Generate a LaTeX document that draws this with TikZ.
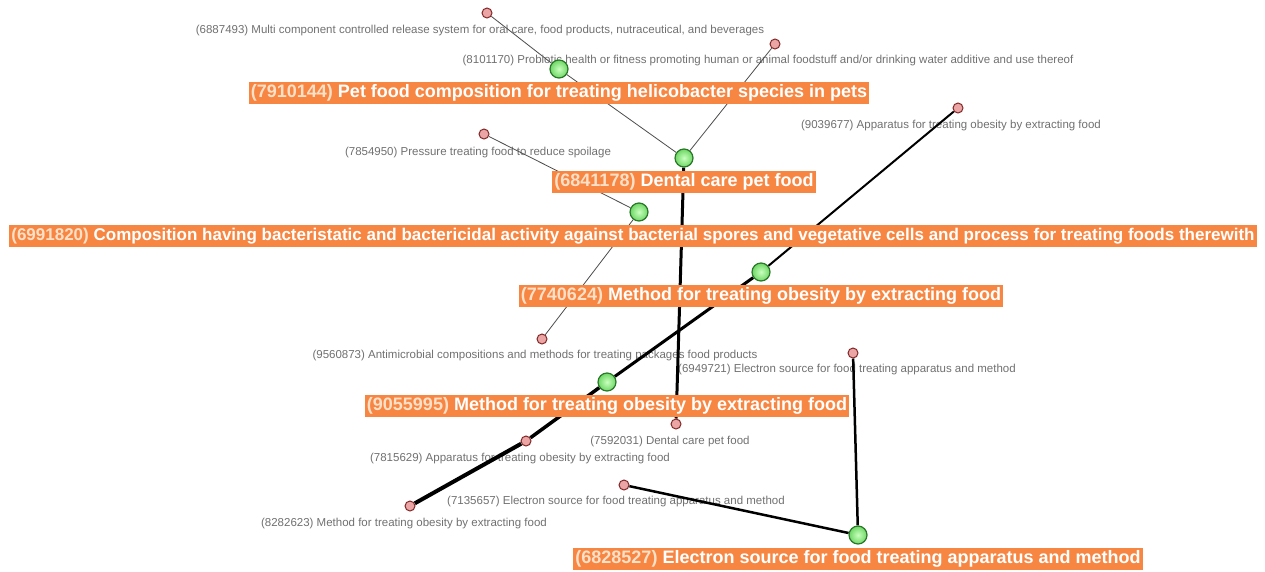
\documentclass[tikz,border=0pt]{standalone}
\usepackage{fontspec}
\setmainfont{Liberation Sans}
\usetikzlibrary{backgrounds}
\definecolor{barorange}{RGB}{247,134,66}
\definecolor{idpeach}{RGB}{253,224,200}
\definecolor{greenhi}{RGB}{200,255,190}
\definecolor{greenlo}{RGB}{110,215,100}
\definecolor{greenline}{RGB}{40,120,40}
\definecolor{redfill}{RGB}{235,165,165}
\definecolor{redline}{RGB}{130,40,40}
\definecolor{notegray}{RGB}{112,112,112}
\tikzset{
  patent/.style={circle, draw=greenline, line width=1.2pt, inner color=greenhi, outer color=greenlo, minimum size=18pt, inner sep=0pt},
  cited/.style={circle, draw=redline, fill=redfill, line width=1pt, minimum size=10pt, inner sep=0pt},
  bar/.style={fill=barorange, text=white, font=\bfseries\fontsize{18}{20}\selectfont, minimum height=22pt, inner xsep=2pt, inner ysep=0pt},
  note/.style={text=notegray, font=\fontsize{11.5}{13}\selectfont, inner sep=0pt, yshift=-2pt},
  weakedge/.style={draw=black!70, line width=0.8pt},
  strongedge/.style={draw=black, line width=#1},
}
\newcommand{\pid}[1]{\textcolor{idpeach}{(#1)}}

\begin{document}
\begin{tikzpicture}[x=1pt, y=-1pt]
\useasboundingbox (0,0) rectangle (1265,571);
% main patents
\node[patent] (p7910144) at (559,69) {};
\node[patent] (p6841178) at (684,158) {};
\node[patent] (p6991820) at (639,212) {};
\node[patent] (p7740624) at (761,272) {};
\node[patent] (p9055995) at (607,382) {};
\node[patent] (p6828527) at (858,535) {};
% cited patents
\node[cited] (c6887493) at (487,13) {};
\node[cited] (c8101170) at (775,44) {};
\node[cited] (c7854950) at (484,134) {};
\node[cited] (c9039677) at (958,108) {};
\node[cited] (c9560873) at (542,339) {};
\node[cited] (c6949721) at (853,353) {};
\node[cited] (c7592031) at (676,424) {};
\node[cited] (c7815629) at (526,441) {};
\node[cited] (c7135657) at (624,485) {};
\node[cited] (c8282623) at (410,506) {};
\begin{scope}[on background layer]
% cited titles
\node[note] (t6887493) at (480,29) {(6887493) Multi component controlled release system for oral care, food products, nutraceutical, and beverages};
\node[note] (t8101170) at (768,59) {(8101170) Probiotic health or fitness promoting human or animal foodstuff and/or drinking water additive and use thereof};
\node[note] (t7854950) at (478,151) {(7854950) Pressure treating food to reduce spoilage};
\node[note] (t9039677) at (951,124) {(9039677) Apparatus for treating obesity by extracting food};
\node[note] (t9560873) at (535,354) {(9560873) Antimicrobial compositions and methods for treating packages food products};
\node[note] (t6949721) at (847,368) {(6949721) Electron source for food treating apparatus and method};
\node[note] (t7592031) at (670,440) {(7592031) Dental care pet food};
\node[note] (t7815629) at (520,457) {(7815629) Apparatus for treating obesity by extracting food};
\node[note] (t7135657) at (616,500) {(7135657) Electron source for food treating apparatus and method};
\node[note] (t8282623) at (404,522) {(8282623) Method for treating obesity by extracting food};
% links
\draw[weakedge] (p7910144) -- (c6887493);
\draw[weakedge] (p7910144) -- (p6841178);
\draw[weakedge] (p6841178) -- (c8101170);
\draw[weakedge] (p6991820) -- (c7854950);
\draw[weakedge] (p6991820) -- (c9560873);
\draw[strongedge=3pt] (p6841178) -- (c7592031);
\draw[strongedge=2pt] (p7740624) -- (c9039677);
\draw[strongedge=3pt] (p7740624) -- (p9055995);
\draw[strongedge=3.5pt] (p9055995) -- (c7815629);
\draw[strongedge=4pt] (c7815629) -- (c8282623);
\draw[strongedge=2.5pt] (p6828527) -- (c6949721);
\draw[strongedge=2.5pt] (p6828527) -- (c7135657);
\end{scope}
% main titles
\node[bar] (b7910144) at (559,93) {\pid{7910144} Pet food composition for treating helicobacter species in pets};
\node[bar] (b6841178) at (684,182) {\pid{6841178} Dental care pet food};
\node[bar, font=\bfseries\fontsize{17}{19}\selectfont] (b6991820) at (633,236) {\pid{6991820} Composition having bacteristatic and bactericidal activity against bacterial spores and vegetative cells and process for treating foods therewith};
\node[bar] (b7740624) at (761,296) {\pid{7740624} Method for treating obesity by extracting food};
\node[bar] (b9055995) at (607,406) {\pid{9055995} Method for treating obesity by extracting food};
\node[bar] (b6828527) at (858,559) {\pid{6828527} Electron source for food treating apparatus and method};
\end{tikzpicture}
\end{document}
